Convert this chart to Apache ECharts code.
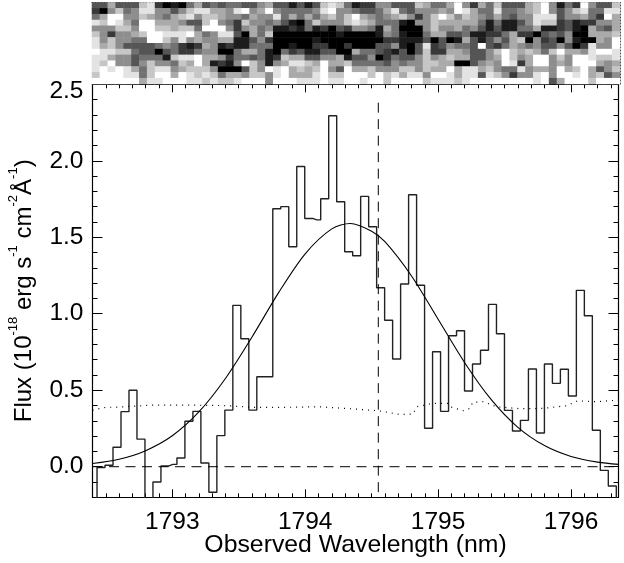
<!DOCTYPE html>
<html><head><meta charset="utf-8">
<style>html,body{margin:0;padding:0;background:#fff}#c{width:624px;height:563px}</style>
<script src="https://cdn.jsdelivr.net/npm/echarts@6/dist/echarts.min.js"></script>
</head><body><div id="c"></div>
<script>
// Spectrum bins (flux in 1e-18 erg/s/cm2/A); -0.4 = runs below the frame
const binStart = 1792.404, binWidth = 0.0601;
const fluxBins = [-0.4,-0.005,0.01,0.127,0.36,0.5,0.18,-0.4,-0.1,0.005,0.015,0.057,0.297,0.362,0.024,-0.167,0.203,0.37,1.055,0.837,0.37,0.588,0.588,1.686,1.7,1.438,1.963,1.623,1.614,1.752,2.294,1.732,1.405,1.379,1.767,1.569,1.17,0.957,0.704,1.194,1.778,1.186,0.251,0.752,0.362,0.856,0.889,0.495,0.671,0.761,1.061,0.869,0.368,0.233,0.303,0.639,0.22,0.671,0.545,0.637,0.462,1.153,0.987,0.238,-0.024,-0.126,-0.4];
// Fitted curve
const fitX = [1792.4,1792.6,1792.8,1793.0,1793.2,1793.4,1793.6,1793.8,1794.0,1794.2,1794.34,1794.5,1794.6,1794.8,1795.0,1795.2,1795.4,1795.6,1795.8,1796.0,1796.2,1796.36];
const fitY = [0.021,0.049,0.105,0.202,0.358,0.577,0.848,1.138,1.392,1.555,1.59,1.54,1.471,1.247,0.964,0.68,0.438,0.257,0.138,0.067,0.03,0.015];
// Noise (dotted) curve
const noiseX = [1792.4,1792.5,1792.6,1792.85,1793.1,1793.35,1793.45,1793.6,1793.85,1794.1,1794.34,1794.55,1794.71,1794.81,1794.84,1794.96,1795.07,1795.09,1795.19,1795.24,1795.26,1795.34,1795.44,1795.62,1795.79,1795.97,1796.05,1796.2,1796.36];
const noiseY = [0.37,0.388,0.39,0.403,0.403,0.4,0.397,0.388,0.388,0.392,0.379,0.366,0.342,0.344,0.392,0.414,0.414,0.392,0.366,0.381,0.421,0.425,0.392,0.379,0.381,0.399,0.431,0.425,0.436];
// Reference lines
const zeroLevel = 0, lineWavelength = 1794.55, lineTop = 2.38;
// Axis ranges and tick steps
const xMin = 1792.4, xMax = 1796.357, yMin = -0.2, yMax = 2.5;
const xLabelMin = 1793, xLabelMax = 1796, yLabelMin = 0, yLabelMax = 2.5;
const xMajorStep = 1, xMinorStep = 0.1, yMajorStep = 0.5, yMinorStep = 0.1;
// 2-D spectrum image: 0 black .. 9 white, one string per row, top to bottom
const imageRows = [
"3363337820104"+"63434433563313"+"1378741225533"+"3764469526473"+"33679514295337",
"2057458855357"+"88665895695444"+"4589554334684"+"3555659864484"+"45679535784488",
"4699557654678"+"57765546558464"+"6467579654567"+"5257975765464"+"35588835564296",
"8798649966653"+"37954275545310"+"4755578764441"+"0557666664141"+"13587723122556",
"5557759977677"+"49995256451121"+"4120325541640"+"0057556453131"+"14461123106436",
"7525567998889"+"64588306470000"+"0000100001541"+"0046633411224"+"62203435006667",
"8575544997585"+"65566113520000"+"0100000000221"+"1130301631353"+"67052305100659",
"8675333345421"+"26512114440010"+"0220020003351"+"0382354439324"+"65453353028559",
"9887743303422"+"45500466410423"+"1133006443213"+"0372266533579"+"76764796658998",
"8865534441788"+"96652443412766"+"3355613350243"+"3575676633569"+"75699575998778",
"8795535755476"+"96121597515688"+"7696674444354"+"5577660035659"+"82699565999656",
"8989864788567"+"77500037598967"+"6795396675557"+"7576696886754"+"48566596796357",
"7999884799698"+"78746657758966"+"6897799979786"+"8859986883875"+"25589599896735",
"9999996889998"+"87877899959998"+"8898899899799"+"9978887899999"+"99989369997999"
];

const FONT = '"Liberation Sans", Arial, sans-serif';
const INK = '#000';

const histData = fluxBins.map((v,i)=>[binStart+binWidth*i, v]);
const heat = [];
imageRows.forEach((r,j)=>{ for(let i=0;i<r.length;i++) heat.push([i, imageRows.length-1-j, +r[i]]); });
const cols = Array.from({length:imageRows[0].length},(_,i)=>i);
const rows = imageRows.map((_,i)=>i);

// Plot frame in pixels; the major-tick grids cover the same scale, starting on a whole tick
const P = {left:92.5,top:84.3,width:526,height:413};
const pxPerNm = P.width/(xMax-xMin), pxPerFlux = P.height/(yMax-yMin);
const gridXMajor = {left:P.left+(xLabelMin-xMin)*pxPerNm,width:(xLabelMax-xLabelMin)*pxPerNm,top:P.top,height:P.height,outerBoundsMode:'none'};
const gridYMajor = {left:P.left,width:P.width,top:P.top,height:(yLabelMax-yLabelMin)*pxPerFlux,outerBoundsMode:'none'};

function minorX(pos, named){
  return {type:'value',gridIndex:0,position:pos,min:xMin,max:xMax,interval:xMinorStep,splitLine:{show:false},
    axisLine:{show:true,onZero:false,lineStyle:{color:INK,width:1.2}},
    axisTick:{show:true,inside:true,length:4,lineStyle:{color:INK,width:1}},axisLabel:{show:false},
    ...(named?{name:'Observed Wavelength (nm)',nameLocation:'middle',nameGap:35,
      nameTextStyle:{color:INK,fontFamily:FONT,fontSize:24.8}}:{})};
}
function minorY(pos, named){
  return {type:'value',gridIndex:0,position:pos,min:yMin,max:yMax,interval:yMinorStep,splitLine:{show:false},
    axisLine:{show:true,onZero:false,lineStyle:{color:INK,width:1.2}},
    axisTick:{show:true,inside:true,length:5,lineStyle:{color:INK,width:1}},axisLabel:{show:false},
    ...(named?{name:'{n|Flux (10}{s|-18}{n| erg s}{s|-1}{n| cm}{s|-2}{n|Å}{s|-1}{n|)}',nameLocation:'middle',nameGap:56,nameRotate:90,
      nameTextStyle:{rich:{n:{color:INK,fontFamily:FONT,fontSize:24,lineHeight:30,verticalAlign:'bottom'},
                           s:{color:INK,fontFamily:FONT,fontSize:13,lineHeight:13,verticalAlign:'top'}}}}:{})};
}
function majorX(pos, labels){
  return {type:'value',gridIndex:2,position:pos,min:xLabelMin,max:xLabelMax,interval:xMajorStep,splitLine:{show:false},
    axisLine:{show:false,onZero:false},
    axisTick:{show:true,inside:true,length:8,lineStyle:{color:INK,width:1}},
    axisLabel:labels?{show:true,color:INK,fontFamily:FONT,fontSize:24.5,margin:12,formatter:v=>String(v)}:{show:false}};
}
function majorY(pos, labels){
  return {type:'value',gridIndex:3,position:pos,min:yLabelMin,max:yLabelMax,interval:yMajorStep,splitLine:{show:false},
    axisLine:{show:false,onZero:false},
    axisTick:{show:true,inside:true,length:10,lineStyle:{color:INK,width:1}},
    axisLabel:labels?{show:true,verticalAlignMaxLabel:'top',lineHeight:10,padding:[2,0,0,0],color:INK,fontFamily:FONT,fontSize:24.5,margin:9,formatter:v=>v.toFixed(1)}:{show:false}};
}
function catAxis(pos, data, kind){
  const line = {show:true,onZero:false,lineStyle:{color:'#222',width:1,type:[1,2]}};
  return {type:'category',gridIndex:1,data,position:pos,axisLine:kind?line:{show:false},axisTick:{show:false},axisLabel:{show:false},splitLine:{show:false},splitArea:{show:false}};
}
function hiddenAxis(gridIndex){ return {type:'value',gridIndex,show:false,min:0,max:1}; }

const chart = echarts.init(document.getElementById('c'),null,{renderer:'canvas'});
chart.setOption({
  animation:false, backgroundColor:'#fff',
  grid:[{...P,outerBoundsMode:'none'},{left:92,top:2.5,width:528,height:81.5,outerBoundsMode:'none'},gridXMajor,gridYMajor],
  visualMap:{show:false,type:'continuous',seriesIndex:0,dimension:2,min:0,max:9,inRange:{color:['#000000','#ffffff']}},
  xAxis:[
    minorX('bottom',true), minorX('top',false),
    catAxis('bottom',cols,false), catAxis('top',cols,true),
    majorX('bottom',true), majorX('top',false),
    hiddenAxis(3)
  ],
  yAxis:[
    minorY('left',true), minorY('right',false),
    catAxis('left',rows,true), catAxis('right',rows,true),
    hiddenAxis(2),
    majorY('left',true), majorY('right',false)
  ],
  series:[
    {type:'heatmap',xAxisIndex:2,yAxisIndex:2,data:heat,progressive:0,silent:true},
    {type:'line',data:histData,step:'middle',showSymbol:false,lineStyle:{color:'#222',width:1.4},silent:true},
    {type:'line',data:fitX.map((x,i)=>[x,fitY[i]]),smooth:0.3,showSymbol:false,lineStyle:{color:INK,width:1.1},silent:true},
    {type:'line',data:noiseX.map((x,i)=>[x,noiseY[i]]),showSymbol:false,lineStyle:{color:INK,width:1.2,type:[1,5]},silent:true},
    {type:'line',data:[[xMin,zeroLevel],[xMax,zeroLevel]],showSymbol:false,lineStyle:{color:INK,width:1,type:[10,6.5]},silent:true},
    {type:'line',data:[[lineWavelength,lineTop],[lineWavelength,yMin]],showSymbol:false,lineStyle:{color:INK,width:1,type:[10,6.5]},silent:true}
  ]
});
</script></body></html>
